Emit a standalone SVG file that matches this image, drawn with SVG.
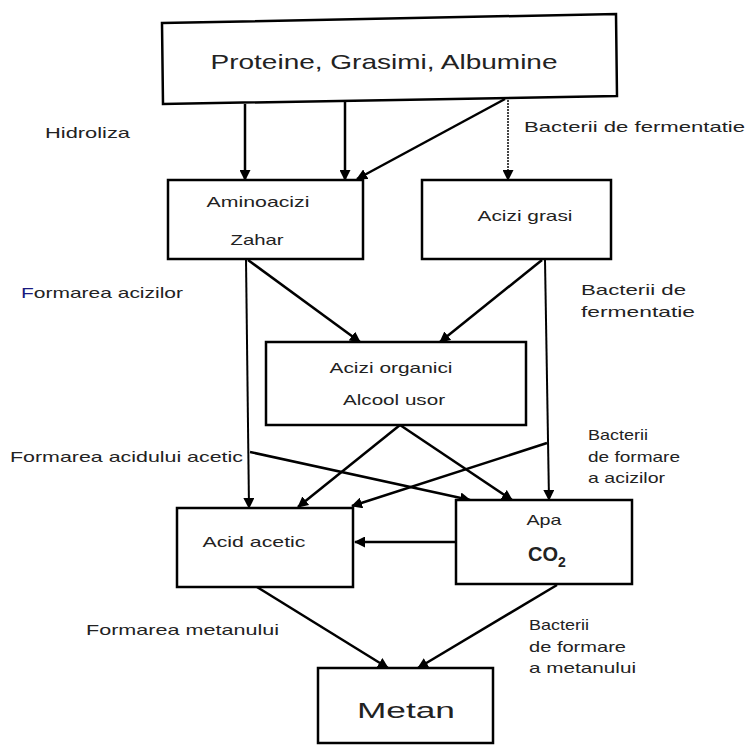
<svg xmlns="http://www.w3.org/2000/svg" width="748" height="746" viewBox="0 0 748 746">
<defs>
<marker id="ah" markerWidth="11" markerHeight="11" refX="10" refY="5.5" orient="auto" markerUnits="userSpaceOnUse">
<path d="M0,0 L11,5.5 L0,11 Z" fill="#000"/>
</marker>
<style>
.box{fill:#fff;stroke:#000;stroke-width:2.5}
.t{font-family:"Liberation Sans",Arial,sans-serif;fill:#222;font-size:15px}
.n{font-family:"Liberation Sans",Arial,sans-serif;fill:#222;font-size:15px;text-anchor:middle}
.c{stroke:#000;stroke-width:2.5;fill:none;marker-end:url(#ah)}
</style>
</defs>
<rect width="748" height="746" fill="#fff"/>
<g id="connectors">
<line class="c" x1="245" y1="104" x2="245" y2="180"/>
<line class="c" x1="345" y1="102" x2="345" y2="180"/>
<line class="c" x1="505" y1="99" x2="357" y2="179"/>
<line class="c" x1="508" y1="97" x2="508" y2="180" stroke-dasharray="2 1" style="stroke:#444;stroke-width:2"/>
<line class="c" x1="248" y1="260" x2="360" y2="342"/>
<line class="c" x1="542" y1="260" x2="440" y2="342"/>
<line class="c" x1="246" y1="259" x2="249" y2="508" style="stroke-width:2"/>
<line class="c" x1="545" y1="260" x2="549" y2="500" style="stroke-width:2"/>
<line class="c" x1="400" y1="425" x2="298" y2="507"/>
<line class="c" x1="400" y1="425" x2="512" y2="500"/>
<line class="c" x1="250" y1="452" x2="470" y2="500"/>
<line class="c" x1="547" y1="443" x2="352" y2="506"/>
<line class="c" x1="455" y1="542" x2="355" y2="542"/>
<line class="c" x1="257" y1="587" x2="388" y2="668"/>
<line class="c" x1="557" y1="585" x2="418" y2="668"/>
</g>
<g id="n-top">
<polygon class="box" points="162,23 616,14 617,96 163,104"/>
<text class="n" x="384" y="69" style="font-size:21px" textLength="347" lengthAdjust="spacingAndGlyphs">Proteine, Grasimi, Albumine</text>
</g>
<g id="n-aminoacizi">
<rect class="box" x="168" y="180" width="195" height="79"/>
<text class="n" x="258" y="207" textLength="103" lengthAdjust="spacingAndGlyphs">Aminoacizi</text>
<text class="n" x="257" y="245" textLength="53" lengthAdjust="spacingAndGlyphs">Zahar</text>
</g>
<g id="n-acizigrasi">
<rect class="box" x="422" y="180" width="189" height="79"/>
<text class="n" x="525" y="221" textLength="95" lengthAdjust="spacingAndGlyphs">Acizi grasi</text>
</g>
<g id="n-aciziorganici">
<rect class="box" x="266" y="342" width="260" height="83"/>
<text class="n" x="391" y="373" textLength="123" lengthAdjust="spacingAndGlyphs">Acizi organici</text>
<text class="n" x="394" y="405" textLength="102" lengthAdjust="spacingAndGlyphs">Alcool usor</text>
</g>
<g id="n-acidacetic">
<rect class="box" x="177" y="508" width="176" height="79"/>
<text class="n" x="254" y="547" textLength="103" lengthAdjust="spacingAndGlyphs">Acid acetic</text>
</g>
<g id="n-apa">
<rect class="box" x="456" y="500" width="176" height="84"/>
<text class="n" x="544" y="525" textLength="35" lengthAdjust="spacingAndGlyphs">Apa</text>
<text class="t" x="528" y="561" style="font-size:20px;font-weight:bold">CO<tspan dy="6" style="font-size:14px">2</tspan></text>
</g>
<g id="n-metan">
<rect class="box" x="318" y="668" width="175" height="75"/>
<text class="n" x="406" y="718" style="font-size:22px" textLength="98" lengthAdjust="spacingAndGlyphs">Metan</text>
</g>
<g id="labels">
<text class="t" x="45" y="138" textLength="85" lengthAdjust="spacingAndGlyphs">Hidroliza</text>
<text class="t" x="524" y="132" textLength="221" lengthAdjust="spacingAndGlyphs">Bacterii de fermentatie</text>
<text class="t" x="21" y="298" textLength="162" lengthAdjust="spacingAndGlyphs"><tspan fill="#1a1a80">F</tspan>ormarea acizilor</text>
<text class="t" x="581" y="295" textLength="105" lengthAdjust="spacingAndGlyphs">Bacterii de</text>
<text class="t" x="581" y="317" textLength="114" lengthAdjust="spacingAndGlyphs">fermentatie</text>
<text class="t" x="10" y="462" textLength="233" lengthAdjust="spacingAndGlyphs">Formarea acidului acetic</text>
<text class="t" x="588" y="440" textLength="60" lengthAdjust="spacingAndGlyphs">Bacterii</text>
<text class="t" x="588" y="462" textLength="92" lengthAdjust="spacingAndGlyphs">de formare</text>
<text class="t" x="588" y="483" textLength="77" lengthAdjust="spacingAndGlyphs">a acizilor</text>
<text class="t" x="86" y="635" textLength="193" lengthAdjust="spacingAndGlyphs">Formarea metanului</text>
<text class="t" x="529" y="630" textLength="60" lengthAdjust="spacingAndGlyphs">Bacterii</text>
<text class="t" x="529" y="652" textLength="97" lengthAdjust="spacingAndGlyphs">de formare</text>
<text class="t" x="529" y="673" textLength="107" lengthAdjust="spacingAndGlyphs">a metanului</text>
</g>
</svg>
